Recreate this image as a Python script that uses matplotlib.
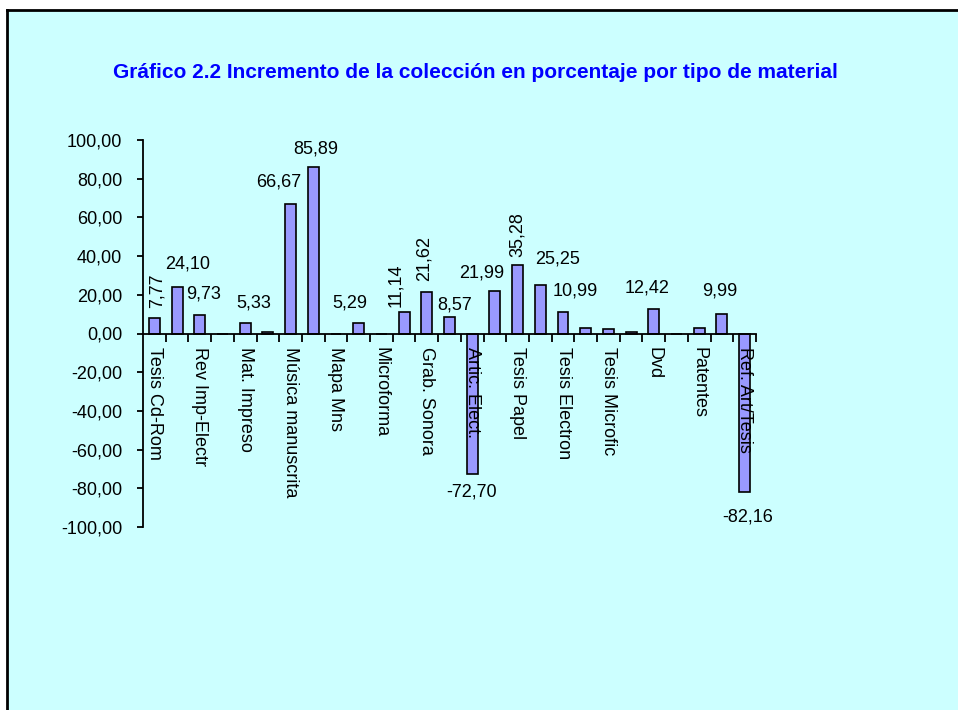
import matplotlib
matplotlib.use('Agg')
import matplotlib.pyplot as plt
import numpy as np
from matplotlib.patches import Rectangle
from matplotlib.lines import Line2D
from matplotlib.ticker import FuncFormatter, FixedLocator

plt.rcParams['font.family'] = ['Liberation Sans', 'DejaVu Sans']

# Datos: incremento (%) por tipo de material (solo se ven las etiquetas pares)
categorias = ['Tesis Cd-Rom', '', 'Rev Imp-Electr', '', 'Mat. Impreso', '',
              'Música manuscrita', '', 'Mapa Mns', '', 'Microforma', '',
              'Grab. Sonora', '', 'Artic. Elect.', '', 'Tesis Papel', '',
              'Tesis Electron', '', 'Tesis Microfic', '', 'Dvd', '',
              'Patentes', '', 'Ref. Art/Tesis']
incremento = [7.77, 24.10, 9.73, 0, 5.33, 0.8, 66.67, 85.89, 0, 5.29, 0,
              11.14, 21.62, 8.57, -72.70, 21.99, 35.28, 25.25, 10.99, 2.6,
              2.5, 0.6, 12.42, 0, 2.6, 9.99, -82.16]
titulo = 'Gráfico 2.2 Incremento de la colección en porcentaje por tipo de material'

# posicion de las etiquetas de datos (dx, dy en pixeles, rotacion)
label_pos = {0: (3, 28, 90), 1: (11, 23, 0), 2: (4, 21, 0), 4: (9, 20, 0),
             6: (-12, 22, 0), 7: (2, 18, 0), 9: (-9, 20, 0), 11: (-8, 27, 90),
             12: (-3, 33, 90), 13: (5, 12, 0), 14: (-1, -18, 0),
             15: (-13, 18, 0), 16: (0, 31, 90), 17: (17, 26, 0),
             18: (12, 21, 0), 22: (-7, 21, 0), 25: (-2, 23, 0),
             26: (3, -25, 0)}


def coma(v):
    return f'{v:.2f}'.replace('.', ',')


fig = plt.figure(figsize=(9.58, 7.10), dpi=100)
fig.patch.set_facecolor('white')

# fondo del grafico
fig.add_artist(Rectangle((7 / 958, 0), 1, 700 / 710, transform=fig.transFigure,
                         facecolor='#CCFFFF', edgecolor='none', zorder=0))
fig.add_artist(Line2D([7 / 958, 7 / 958], [0, 700 / 710], color='black',
                      lw=2, transform=fig.transFigure))
fig.add_artist(Line2D([7 / 958, 1], [700 / 710, 700 / 710], color='black',
                      lw=2, transform=fig.transFigure))

ax = fig.add_axes([143 / 958, 1 - 527 / 710, (756 - 143) / 958,
                   (527 - 140) / 710])
ax.patch.set_visible(False)
ax.set_axisbelow(False)

x = np.arange(len(incremento))
bars = ax.bar(x, incremento, width=0.48, color='#9999FF',
              edgecolor='black', linewidth=1.2, zorder=2)

ax.set_xlim(-0.5, len(incremento) - 0.5)
ax.set_ylim(-100, 100)

for s in ['top', 'right']:
    ax.spines[s].set_visible(False)
ax.spines['bottom'].set_position(('data', 0))
ax.spines['bottom'].set_linewidth(1.3)
ax.spines['left'].set_linewidth(1.3)
ax.spines['bottom'].set_zorder(3)

ax.set_yticks(np.arange(-100, 101, 20))
ax.yaxis.set_major_formatter(FuncFormatter(lambda v, p: coma(v)))
ax.tick_params(axis='y', length=4, width=1.3, pad=11, labelsize=13)

ax.set_xticks(x)
ax.set_xticklabels(categorias, rotation=-90, ha='center', va='top',
                   fontsize=13)
ax.xaxis.set_minor_locator(FixedLocator(np.arange(0.5, len(incremento), 1)))
ax.tick_params(axis='x', which='major', length=0, pad=10)
ax.tick_params(axis='x', which='minor', length=6, width=1.3,
               direction='out')

for i, (dx, dy, rot) in label_pos.items():
    v = incremento[i]
    ax.annotate(coma(v), xy=(i, v), xytext=(dx, dy),
                textcoords='offset pixels', ha='center', va='center',
                rotation=rot, fontsize=13, zorder=4)

fig.text(475 / 958, 1 - 73 / 710, titulo, ha='center', va='center',
         fontsize=15, fontweight='bold', color='#0000FF')

fig.savefig('out.png', dpi=100)
